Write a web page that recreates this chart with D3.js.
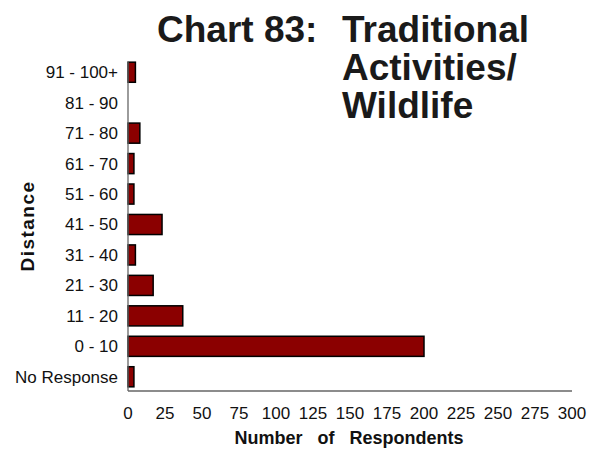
<!DOCTYPE html>
<html>
<head>
<meta charset="utf-8">
<script src="https://cdn.jsdelivr.net/npm/d3@7"></script>
<style>
body { margin: 0; background: #fff; }
text { font-family: "Liberation Sans", Arial, sans-serif; }
</style>
</head>
<body>
<div id="chart-area"></div>
<script>
// categories bottom to top
var categories = ["No Response", "0 - 10", "11 - 20", "21 - 30", "31 - 40", "41 - 50",
    "51 - 60", "61 - 70", "71 - 80", "81 - 90", "91 - 100+"];
var respondents = [4, 200, 37, 17, 5, 23, 4, 4, 8, 0, 5];
var xTicks = [0, 25, 50, 75, 100, 125, 150, 175, 200, 225, 250, 275, 300];

var width = 590;
var height = 460;

var svg = d3.select("#chart-area").append("svg")
    .attr("width", width)
    .attr("height", height)

var x = d3.scaleLinear()
    .domain([0, 300])
    .range([128, 572])

var y = d3.scaleBand()
    .domain(categories.slice().reverse())
    .range([57, 392])
    .paddingInner(0.34)
    .paddingOuter(0.17)

// bars
svg.selectAll("rect.bar").data(categories)
    .enter().append("rect")
    .attr("class", "bar")
    .attr("x", x(0))
    .attr("y", d => y(d))
    .attr("width", (d, i) => x(respondents[i]) - x(0))
    .attr("height", y.bandwidth())
    .attr("fill", "#8b0000")
    .attr("stroke", (d, i) => respondents[i] > 0 ? "#000" : "none")
    .attr("stroke-width", 1.5)

// axis lines
svg.append("line")
    .attr("x1", x(0)).attr("x2", x(0))
    .attr("y1", 62).attr("y2", 391)
    .attr("stroke", "#666").attr("stroke-width", 1.3)

svg.append("line")
    .attr("x1", x(0)).attr("x2", x(300))
    .attr("y1", 391).attr("y2", 391)
    .attr("stroke", "#666").attr("stroke-width", 1.3)

// category labels
svg.selectAll("text.cat").data(categories)
    .enter().append("text")
    .attr("class", "cat")
    .attr("x", 118)
    .attr("y", d => y(d) + y.bandwidth() / 2)
    .attr("dy", "0.35em")
    .attr("text-anchor", "end")
    .attr("font-size", "17px")
    .attr("fill", "#111")
    .text(d => d)

// x tick labels
svg.selectAll("text.xt").data(xTicks)
    .enter().append("text")
    .attr("class", "xt")
    .attr("x", d => x(d))
    .attr("y", 413)
    .attr("dy", "0.35em")
    .attr("text-anchor", "middle")
    .attr("font-size", "17px")
    .attr("fill", "#111")
    .text(d => d)

// X Label
svg.append("text")
    .attr("x", 349)
    .attr("y", 444)
    .attr("font-size", "18px")
    .attr("font-weight", "bold")
    .attr("text-anchor", "middle")
    .attr("word-spacing", "10px")
    .attr("fill", "#111")
    .text("Number of Respondents")

// Y Label
svg.append("text")
    .attr("transform", "translate(34, 226) rotate(-90)")
    .attr("font-size", "19px")
    .attr("font-weight", "bold")
    .attr("text-anchor", "middle")
    .attr("letter-spacing", "1.5px")
    .attr("fill", "#111")
    .text("Distance")

// Title
var title = svg.append("g").attr("font-size", "37px").attr("font-weight", "bold").attr("fill", "#1a1a1a")
title.append("text").attr("x", 157).attr("y", 42).text("Chart 83:")
title.append("text").attr("x", 342).attr("y", 42).text("Traditional")
title.append("text").attr("x", 342).attr("y", 80).text("Activities/")
title.append("text").attr("x", 342).attr("y", 118).text("Wildlife")
</script>
</body>
</html>
